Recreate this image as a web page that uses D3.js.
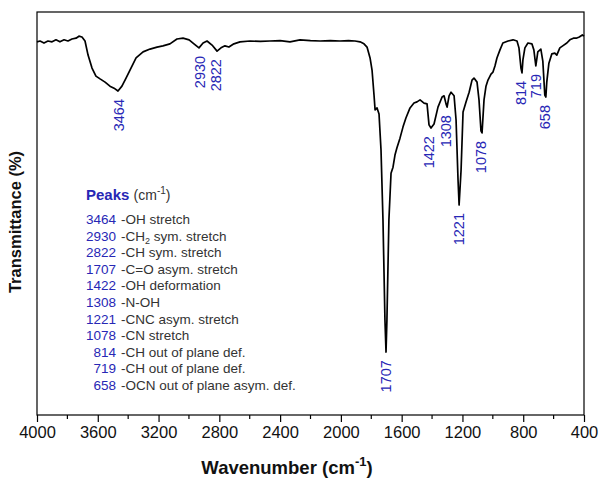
<!DOCTYPE html>
<html>
<head>
<meta charset="utf-8">
<script src="https://cdn.jsdelivr.net/npm/d3@7"></script>
<style>
  body { margin: 0; background: #fff; }
  svg { font-family: Arial, "Liberation Sans", sans-serif; }
</style>
</head>
<body>
<svg id="chart"></svg>
<script>
// FTIR spectrum
const wavenumber = [
  4000, 3980, 3954, 3928, 3901, 3875, 3849, 3822, 3796, 3770, 3743, 3724, 3704, 3684,
  3664, 3638, 3612, 3585, 3552, 3520, 3493, 3467, 3441, 3414, 3388, 3348, 3302, 3256,
  3210, 3171, 3125, 3079, 3039, 2999, 2967, 2934, 2907, 2881, 2848, 2815, 2789, 2763,
  2737, 2704, 2664, 2598, 2530, 2467, 2400, 2335, 2269, 2200, 2137, 2070, 2006, 1950,
  1907, 1874, 1848, 1828, 1808, 1795, 1782, 1775, 1762, 1749, 1736, 1723, 1710, 1703,
  1697, 1684, 1670, 1657, 1644, 1631, 1611, 1591, 1572, 1545, 1519, 1499, 1479, 1453,
  1433, 1420, 1407, 1387, 1361, 1334, 1321, 1308, 1301, 1288, 1275, 1255, 1242, 1229,
  1222, 1209, 1196, 1176, 1156, 1137, 1124, 1104, 1091, 1078, 1071, 1058, 1045, 1032,
  1012, 999, 986, 973, 953, 934, 900, 867, 841, 828, 815, 808, 802, 789, 769, 743,
  730, 717, 704, 684, 671, 658, 651, 645, 631, 612, 592, 579, 559, 540, 513, 493, 470,
  451, 431, 411, 400
];
const transmittance = [
  92.6, 92.8, 92.3, 92.8, 92.6, 93.1, 92.6, 93.1, 92.8, 93.3, 93.5, 94.0, 93.8, 92.8,
  89.3, 86.1, 84.1, 83.4, 82.6, 81.6, 81.1, 80.4, 81.6, 83.6, 85.6, 88.6, 90.1, 90.8,
  91.3, 91.6, 92.1, 93.3, 93.5, 93.1, 92.1, 91.1, 92.3, 92.8, 91.8, 90.3, 91.1, 91.6,
  91.3, 92.1, 92.6, 92.8, 92.7, 92.8, 92.9, 92.6, 93.1, 92.9, 92.8, 92.9, 92.8, 92.9,
  92.8, 92.6, 92.1, 91.3, 88.6, 85.6, 79.4, 75.7, 76.2, 74.7, 65.8, 48.4, 23.6, 15.6,
  23.6, 48.4, 60.0, 61.5, 64.5, 66.3, 68.7, 71.5, 73.7, 76.2, 77.4, 77.7, 78.2, 77.4,
  77.2, 72.0, 71.2, 72.2, 76.4, 78.9, 79.2, 77.2, 76.4, 79.2, 80.1, 79.2, 73.2, 58.3,
  52.1, 60.8, 75.2, 77.7, 80.1, 83.1, 83.6, 82.6, 78.2, 70.5, 70.0, 78.2, 81.6, 83.1,
  84.6, 85.1, 86.6, 88.6, 90.6, 92.3, 92.8, 93.1, 92.8, 91.1, 86.1, 84.9, 88.1, 91.1,
  92.3, 92.1, 90.6, 86.6, 90.1, 90.8, 87.8, 79.4, 78.9, 82.6, 87.3, 89.6, 89.8, 89.3,
  91.1, 91.6, 92.3, 93.1, 93.5, 93.5, 93.8, 94.3, 94.0
];

const peakWave = [3464, 2930, 2822, 1707, 1422, 1308, 1221, 1078, 814, 719, 658];
const peakText = ["3464", "2930", "2822", "1707", "1422", "1308", "1221", "1078", "814", "719", "658"];
// assignment text, the entry with a subscript is split in [before, sub, after]
const peakAssign = [
  ["-OH stretch"],
  ["-CH", "2", " sym. stretch"],
  ["-CH sym. stretch"],
  ["-C=O asym. stretch"],
  ["-OH deformation"],
  ["-N-OH"],
  ["-CNC asym. stretch"],
  ["-CN stretch"],
  ["-CH out of plane def."],
  ["-CH out of plane def."],
  ["-OCN out of plane asym. def."]
];

const xTicks = [4000, 3600, 3200, 2800, 2400, 2000, 1600, 1200, 800, 400];
const xMinorTicks = [3800, 3400, 3000, 2600, 2200, 1800, 1400, 1000, 600];

const W = 601, H = 484;
const m = { left: 37, right: 17, top: 12, bottom: 69 };
const blue = "#2727b5";

const svg = d3.select("#chart").attr("width", W).attr("height", H);

const x = d3.scaleLinear().domain([4000, 400]).range([m.left, W - m.right]);
const y = d3.scaleLinear().domain([0, 100]).range([H - m.bottom, m.top]);

const spectrum = wavenumber.map((w, i) => [w, transmittance[i]]);

// frame
svg.append("rect")
  .attr("x", m.left).attr("y", m.top)
  .attr("width", W - m.left - m.right).attr("height", H - m.top - m.bottom)
  .attr("fill", "none").attr("stroke", "#000").attr("stroke-width", 1.2);

// bottom axis
const gx = svg.append("g").attr("transform", `translate(0,${H - m.bottom})`);
gx.call(d3.axisBottom(x).tickValues(xTicks).tickFormat(d3.format("d")).tickSize(7).tickPadding(4))
  .call(g => g.select(".domain").remove())
  .call(g => g.selectAll("line").attr("stroke-width", 1.2))
  .call(g => g.selectAll("text").attr("font-size", 16.5).attr("fill", "#111")
    .attr("font-family", "Arial, 'Liberation Sans', sans-serif"));
gx.selectAll(".minor").data(xMinorTicks).enter().append("line")
  .attr("class", "minor")
  .attr("x1", d => x(d)).attr("x2", d => x(d))
  .attr("y1", 0).attr("y2", 4)
  .attr("stroke", "#000").attr("stroke-width", 1.2);

// spectrum line
svg.append("path")
  .datum(spectrum)
  .attr("fill", "none")
  .attr("stroke", "#000")
  .attr("stroke-width", 1.7)
  .attr("stroke-linejoin", "round")
  .attr("d", d3.line().x(d => x(d[0])).y(d => y(d[1])));

// peak labels, under the local minimum of the curve
peakWave.forEach((pw, i) => {
  const near = spectrum.filter(d => Math.abs(d[0] - pw) <= 20);
  const tMin = d3.min(near, d => d[1]);
  const px = x(pw), py = y(tMin) + 8;
  svg.append("text")
    .attr("transform", `translate(${px},${py}) rotate(-90)`)
    .attr("text-anchor", "end")
    .attr("dy", "0.36em")
    .attr("font-size", 14.5)
    .attr("fill", blue)
    .text(peakText[i]);
});

// axis titles
const xt = svg.append("text")
  .attr("x", 287).attr("y", 474)
  .attr("text-anchor", "middle")
  .attr("font-weight", "bold").attr("font-size", 18.5).attr("fill", "#111");
xt.append("tspan").text("Wavenumber (cm");
xt.append("tspan").attr("dy", -8).attr("font-size", 13).text("-1");
xt.append("tspan").attr("dy", 8).text(")");

svg.append("text")
  .attr("transform", "translate(21,222) rotate(-90)")
  .attr("text-anchor", "middle")
  .attr("font-weight", "bold").attr("font-size", 16.5).attr("fill", "#111")
  .text("Transmittance (%)");

// peak table
const leg = svg.append("g");
const lt = leg.append("text").attr("x", 86).attr("y", 200);
lt.append("tspan").attr("font-weight", "bold").attr("font-size", 15).attr("fill", blue).text("Peaks ");
lt.append("tspan").attr("font-size", 14).attr("fill", "#333").text("(cm");
lt.append("tspan").attr("font-size", 10).attr("dy", -6).attr("fill", "#333").text("-1");
lt.append("tspan").attr("font-size", 14).attr("dy", 6).attr("fill", "#333").text(")");

peakText.forEach((p, i) => {
  const by = 224 + i * 16.6;
  leg.append("text")
    .attr("x", 116).attr("y", by)
    .attr("text-anchor", "end")
    .attr("font-size", 13.5).attr("fill", blue)
    .text(p);
  const t = leg.append("text")
    .attr("x", 121).attr("y", by)
    .attr("font-size", 13.5).attr("fill", "#333");
  const parts = peakAssign[i];
  t.append("tspan").text(parts[0]);
  if (parts.length > 1) {
    t.append("tspan").attr("font-size", 9).attr("dy", 3).text(parts[1]);
    t.append("tspan").attr("dy", -3).text(parts[2]);
  }
});
</script>
</body>
</html>
